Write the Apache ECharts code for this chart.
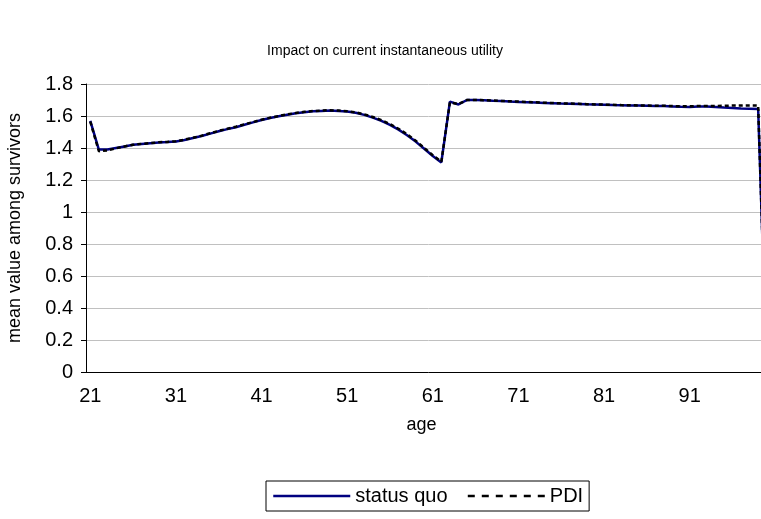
<!DOCTYPE html>
<html>
<head>
<meta charset="utf-8">
<script src="https://cdn.jsdelivr.net/npm/echarts@6/dist/echarts.min.js"></script>
<style>
  html, body { margin: 0; padding: 0; background: #fff; overflow: hidden; }
  #chart { width: 771px; height: 519px; }
</style>
</head>
<body>
<div id="chart"></div>
<script>
// Ages 21..100
const ages = [];
for (let a = 21; a <= 100; a++) ages.push(String(a));

const statusQuo = [
  1.57, 1.39, 1.39, 1.40, 1.41, 1.42, 1.425, 1.43, 1.435, 1.437,
  1.44, 1.45, 1.462, 1.475, 1.49, 1.505, 1.518, 1.53, 1.545, 1.56,
  1.575, 1.587, 1.598, 1.608, 1.617, 1.624, 1.629, 1.632, 1.634, 1.632,
  1.628, 1.62, 1.607, 1.59, 1.57, 1.545, 1.515, 1.48, 1.44, 1.395,
  1.35, 1.31, 1.69, 1.672, 1.70, 1.70, 1.698, 1.695, 1.693, 1.69,
  1.688, 1.686, 1.684, 1.682, 1.68, 1.678, 1.677, 1.675, 1.673, 1.672,
  1.67, 1.668, 1.667, 1.666, 1.665, 1.664, 1.663, 1.662, 1.66, 1.658,
  1.657, 1.66, 1.66, 1.657, 1.653, 1.65, 1.647, 1.645, 1.643, 0
];

const pdi = [
  1.565, 1.38, 1.385, 1.398, 1.41, 1.42, 1.426, 1.43, 1.436, 1.438,
  1.442, 1.452, 1.464, 1.477, 1.492, 1.507, 1.52, 1.533, 1.548, 1.562,
  1.577, 1.589, 1.6, 1.61, 1.619, 1.626, 1.631, 1.634, 1.636, 1.634,
  1.63, 1.623, 1.61, 1.594, 1.574, 1.55, 1.52, 1.486, 1.446, 1.4,
  1.355, 1.315, 1.685, 1.675, 1.70, 1.70, 1.699, 1.697, 1.694, 1.692,
  1.69, 1.688, 1.686, 1.683, 1.681, 1.679, 1.678, 1.676, 1.674, 1.672,
  1.671, 1.67, 1.668, 1.667, 1.666, 1.665, 1.664, 1.664, 1.662, 1.66,
  1.661, 1.662, 1.663, 1.663, 1.664, 1.665, 1.665, 1.666, 1.666, 0
];

const yTicks = { min: 0, max: 1.8, step: 0.2 };

const FONT = '"Liberation Sans", Arial, sans-serif';

const chart = echarts.init(document.getElementById('chart'), null, { renderer: 'canvas' });

chart.setOption({
  animation: false,
  backgroundColor: '#ffffff',
  textStyle: { fontFamily: FONT, color: '#000' },
  title: {
    text: 'Impact on current instantaneous utility',
    left: 380,
    textAlign: 'center',
    top: 39,
    textStyle: { fontFamily: FONT, fontSize: 14, fontWeight: 'normal', color: '#000' }
  },
  legend: {
    data: [
      { name: 'status quo', lineStyle: { width: 2.5 } },
      { name: 'PDI', lineStyle: { width: 2.5, type: [7, 7] } }
    ],
    left: 266,
    top: 481,
    itemWidth: 77,
    itemHeight: 14,
    itemGap: 19,
    padding: [5, 6, 5, 6],
    borderColor: '#000',
    borderWidth: 1,
    borderRadius: 0,
    itemStyle: { opacity: 0 },
    textStyle: { fontFamily: FONT, fontSize: 20, color: '#000' }
  },
  grid: { left: 86, top: 84, right: 0, height: 288, outerBoundsMode: 'none', containLabel: false },
  xAxis: {
    type: 'category',
    data: ages,
    boundaryGap: true,
    name: 'age',
    nameLocation: 'middle',
    nameGap: 44,
    nameTextStyle: { fontFamily: FONT, fontSize: 18, color: '#000', padding: [0, 14, 0, 0] },
    axisLine: { lineStyle: { color: '#000', width: 1 } },
    axisTick: { interval: 4, length: 5, lineStyle: { color: '#000' } },
    axisLabel: { interval: 9, margin: 14, fontFamily: FONT, fontSize: 20, color: '#000' },
    splitLine: { show: false }
  },
  yAxis: {
    type: 'value',
    min: yTicks.min,
    max: yTicks.max,
    interval: yTicks.step,
    name: 'mean value among survivors',
    nameLocation: 'middle',
    nameGap: 62,
    nameTextStyle: { fontFamily: FONT, fontSize: 18, color: '#000' },
    axisLine: { show: true, lineStyle: { color: '#000', width: 1 } },
    axisTick: { show: true, length: 5, lineStyle: { color: '#000' } },
    axisLabel: { margin: 13, fontFamily: FONT, fontSize: 20, color: '#000' },
    splitLine: { show: true, lineStyle: { color: '#c0c0c0', width: 1 } }
  },
  series: [
    {
      name: 'status quo',
      type: 'line',
      data: statusQuo,
      symbol: 'none',
      lineStyle: { color: '#000080', width: 2.5 },
      itemStyle: { color: '#000080' },
      z: 2
    },
    {
      name: 'PDI',
      type: 'line',
      data: pdi,
      symbol: 'none',
      lineStyle: { color: '#000000', width: 2.5, type: [4, 3] },
      itemStyle: { color: '#000000' },
      z: 3
    }
  ]
});
</script>
</body>
</html>
